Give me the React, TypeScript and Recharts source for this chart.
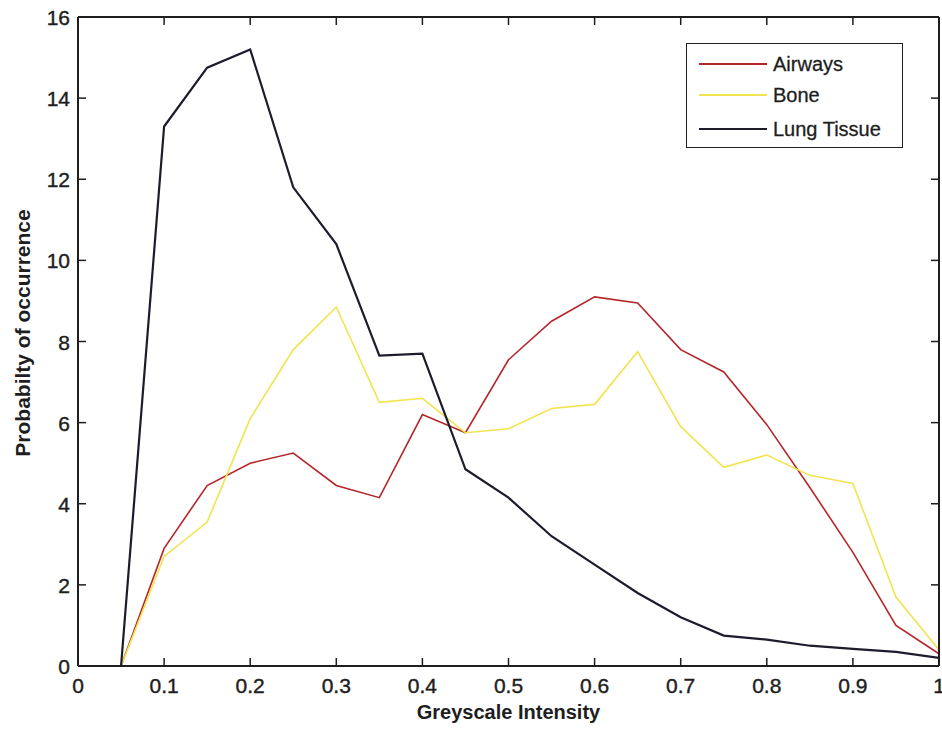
import React from 'react';
import { LineChart, Line, XAxis, YAxis, Legend } from 'recharts';

const xValues = [0.05, 0.1, 0.15, 0.2, 0.25, 0.3, 0.35, 0.4, 0.45, 0.5, 0.55, 0.6, 0.65, 0.7, 0.75, 0.8, 0.85, 0.9, 0.95, 1.0];
const airways = [0, 2.9, 4.45, 5.0, 5.25, 4.45, 4.15, 6.2, 5.75, 7.55, 8.5, 9.1, 8.95, 7.8, 7.25, 5.95, 4.4, 2.8, 1.0, 0.3];
const bone = [0, 2.7, 3.55, 6.1, 7.8, 8.85, 6.5, 6.6, 5.75, 5.85, 6.35, 6.45, 7.75, 5.9, 4.9, 5.2, 4.7, 4.5, 1.7, 0.4];
const lungTissue = [0, 13.3, 14.75, 15.2, 11.8, 10.4, 7.65, 7.7, 4.85, 4.15, 3.2, 2.5, 1.8, 1.2, 0.75, 0.65, 0.5, 0.42, 0.35, 0.2];

const xTicks = [0, 0.1, 0.2, 0.3, 0.4, 0.5, 0.6, 0.7, 0.8, 0.9, 1];
const xTickLabels = ['0', '0.1', '0.2', '0.3', '0.4', '0.5', '0.6', '0.7', '0.8', '0.9', '1'];
const yTicks = [0, 2, 4, 6, 8, 10, 12, 14, 16];
const yTickLabels = ['0', '2', '4', '6', '8', '10', '12', '14', '16'];

const seriesNames = ['Airways', 'Bone', 'Lung Tissue'];
const seriesKeys = ['airways', 'bone', 'lung'];
const seriesColors = ['#b5262a', '#f2e44e', '#1c1c2c'];

const xAxisTitle = 'Greyscale Intensity';
const yAxisTitle = 'Probabilty of occurrence';

const data = xValues.map((x, i) => ({ x, airways: airways[i], bone: bone[i], lung: lungTissue[i] }));

const FONT = '"Liberation Sans", Arial, sans-serif';
const INK = '#1e1e1e';
const TICK = 8;

const BottomTick = (props: any) => {
  const { x, y, payload } = props;
  const idx = xTicks.indexOf(payload.value);
  return (
    <g>
      <line x1={x} y1={y} x2={x} y2={y - TICK} stroke={INK} strokeWidth={1.5} />
      <text x={x} y={y + 27} textAnchor="middle" fontFamily={FONT} fontSize={21} fill={INK}
        stroke={INK} strokeWidth={0.4}>
        {idx >= 0 ? xTickLabels[idx] : String(payload.value)}
      </text>
    </g>
  );
};

const TopTick = (props: any) => {
  const { x, y } = props;
  return <line x1={x} y1={y} x2={x} y2={y + TICK} stroke={INK} strokeWidth={1.5} />;
};

const LeftTick = (props: any) => {
  const { x, y, payload } = props;
  const idx = yTicks.indexOf(payload.value);
  return (
    <g>
      <line x1={x} y1={y} x2={x + TICK} y2={y} stroke={INK} strokeWidth={1.5} />
      <text x={x - 8} y={y + 8} textAnchor="end" fontFamily={FONT} fontSize={21} fill={INK}
        stroke={INK} strokeWidth={0.4}>
        {idx >= 0 ? yTickLabels[idx] : String(payload.value)}
      </text>
    </g>
  );
};

const RightTick = (props: any) => {
  const { x, y } = props;
  return <line x1={x} y1={y} x2={x - TICK} y2={y} stroke={INK} strokeWidth={1.5} />;
};

const XTitle = (props: any) => {
  const vb = props.viewBox || {};
  const cx = (vb.x || 0) + (vb.width || 0) / 2;
  return (
    <text x={cx} y={719} textAnchor="middle" fontFamily={FONT} fontSize={20} fontWeight="bold" fill={INK}>
      {xAxisTitle}
    </text>
  );
};

const YTitle = () => {
  const cx = 30;
  const cy = 333;
  return (
    <text x={cx} y={cy} textAnchor="middle" fontFamily={FONT} fontSize={21} fontWeight="bold" fill={INK}
      transform={`rotate(-90 ${cx} ${cy})`}>
      {yAxisTitle}
    </text>
  );
};

const LegendBox = () => (
  <div style={{ width: 215, height: 103, border: `1.5px solid ${INK}`, background: '#fff', position: 'relative', fontFamily: FONT }}>
    {seriesNames.map((name, i) => (
      <div key={name} style={{ position: 'absolute', left: 0, top: [20, 51, 85][i] - 12, height: 24, display: 'flex', alignItems: 'center' }}>
        <svg width={86} height={24} style={{ display: 'block' }}>
          <line x1={12} y1={12} x2={80} y2={12} stroke={seriesColors[i]} strokeWidth={2} />
        </svg>
        <span style={{ fontSize: 20, color: INK, whiteSpace: 'nowrap', lineHeight: '24px', WebkitTextStroke: '0.3px #1e1e1e' }}>{name}</span>
      </div>
    ))}
  </div>
);

export default function App() {
  return (
    <div style={{ position: 'absolute', left: 0, top: 0, width: 942, height: 731, background: '#fff' }}>
      <LineChart width={942} height={731} data={data} margin={{ top: 0, right: 0, bottom: 0, left: 0 }}>
        <XAxis xAxisId="bottom" dataKey="x" type="number" domain={[0, 1]} ticks={xTicks} orientation="bottom"
          height={65} tickSize={0} tickMargin={0} tick={<BottomTick />} axisLine={{ stroke: INK, strokeWidth: 2 }}
          tickLine={false} allowDataOverflow interval={0} label={<XTitle />} />
        <XAxis xAxisId="top" dataKey="x" type="number" domain={[0, 1]} ticks={xTicks} orientation="top"
          height={17} tickSize={0} tickMargin={0} tick={<TopTick />} axisLine={{ stroke: INK, strokeWidth: 2 }}
          tickLine={false} allowDataOverflow interval={0} />
        <YAxis yAxisId="left" type="number" domain={[0, 16]} ticks={yTicks} orientation="left" width={78}
          tickSize={0} tickMargin={0} tick={<LeftTick />} axisLine={{ stroke: INK, strokeWidth: 2 }}
          tickLine={false} allowDataOverflow interval={0} label={<YTitle />} />
        <YAxis yAxisId="right" type="number" domain={[0, 16]} ticks={yTicks} orientation="right" width={3}
          tickSize={0} tickMargin={0} tick={<RightTick />} axisLine={{ stroke: INK, strokeWidth: 2 }}
          tickLine={false} allowDataOverflow interval={0} />
        {seriesKeys.map((k, i) => (
          <Line key={k} xAxisId="bottom" yAxisId="left" type="linear" dataKey={k} name={seriesNames[i]}
            stroke={seriesColors[i]} strokeWidth={i === 2 ? 2.2 : 1.6} dot={false} activeDot={false}
            isAnimationActive={false} />
        ))}
        <Legend content={<LegendBox />} layout="vertical" align="center" verticalAlign="middle"
          wrapperStyle={{ position: 'absolute', left: 686, top: 43, width: 218, height: 106 }} />
      </LineChart>
    </div>
  );
}
